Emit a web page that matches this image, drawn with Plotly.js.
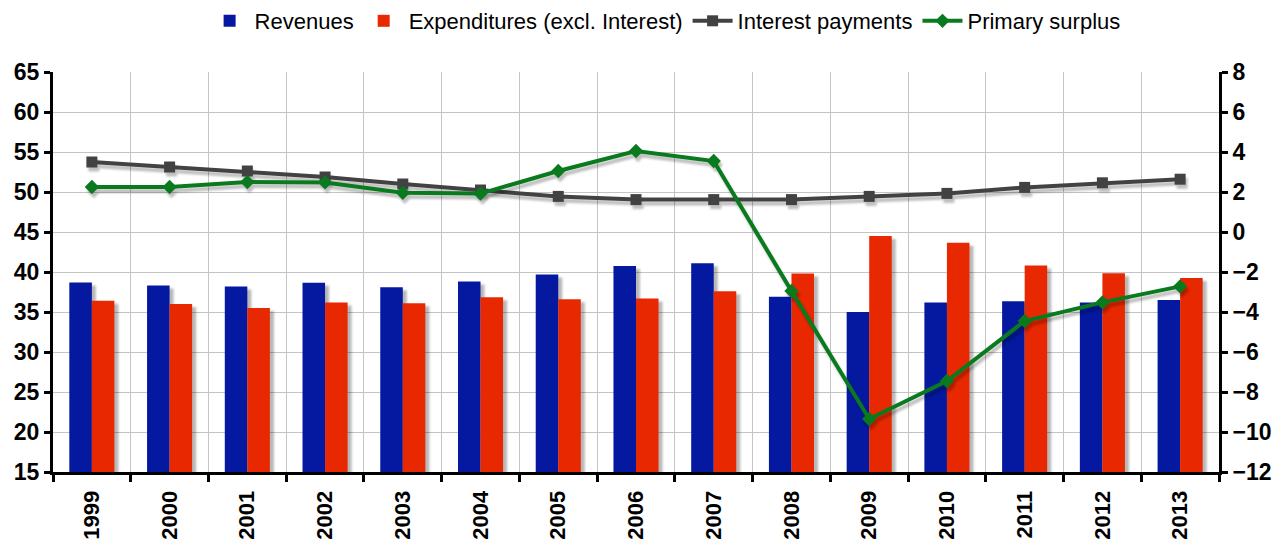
<!DOCTYPE html>
<html>
<head>
<meta charset="utf-8">
<script src="https://cdn.plot.ly/plotly-3.0.1.min.js"></script>
<style>
  html, body { margin: 0; padding: 0; background: #fff; }
  #chart { width: 1284px; height: 550px; }
  .barlayer .trace { filter: drop-shadow(4px 3px 1px rgba(0,0,0,0.28)); }
  .scatterlayer .trace { filter: drop-shadow(2px 4px 1px rgba(0,0,0,0.25)); }
</style>
</head>
<body>
<div id="chart"></div>
<script>
const years = ["1999","2000","2001","2002","2003","2004","2005","2006","2007","2008","2009","2010","2011","2012","2013"];
const revenues = [38.7, 38.3, 38.2, 38.65, 38.1, 38.8, 39.7, 40.75, 41.1, 36.9, 35.0, 36.2, 36.35, 36.2, 36.5];
const expenditures = [36.4, 36.0, 35.5, 36.2, 36.1, 36.85, 36.6, 36.7, 37.6, 39.8, 44.5, 43.65, 40.8, 39.85, 39.25];
const interestPayments = [3.5, 3.25, 3.05, 2.75, 2.4, 2.1, 1.78, 1.62, 1.62, 1.62, 1.78, 1.93, 2.23, 2.46, 2.64];
const primarySurplus = [2.25, 2.25, 2.5, 2.48, 1.96, 1.92, 3.05, 4.05, 3.55, -2.95, -9.35, -7.45, -4.45, -3.52, -2.72];

const font = "Liberation Sans, Arial, sans-serif";

const traces = [
  { type: "bar", name: "Revenues", x: years, y: revenues, marker: { color: "#0418A0" }, yaxis: "y" },
  { type: "bar", name: "Expenditures (excl. Interest)", x: years, y: expenditures, marker: { color: "#E82800" }, yaxis: "y" },
  { type: "scatter", mode: "lines+markers", name: "Interest payments", x: years, y: interestPayments, yaxis: "y2",
    line: { color: "#424242", width: 4 }, marker: { symbol: "square", size: 11, color: "#424242" } },
  { type: "scatter", mode: "lines+markers", name: "Primary surplus", x: years, y: primarySurplus, yaxis: "y2",
    line: { color: "#0A7A1E", width: 4 }, marker: { symbol: "diamond", size: 11, color: "#0A7A1E" } }
];

const layout = {
  width: 1284, height: 550,
  margin: { l: 53, r: 65, t: 72, b: 78, pad: 0 },
  paper_bgcolor: "#ffffff", plot_bgcolor: "#ffffff",
  font: { family: font, color: "#000" },
  barmode: "group", bargap: 0.42, bargroupgap: 0,
  showlegend: true,
  legend: { orientation: "h", x: 0.518, xanchor: "center", xref: "container", y: 1, yref: "container", yanchor: "top",
    font: { size: 22, family: font }, traceorder: "normal", itemwidth: 40 },
  xaxis: {
    type: "category", range: [-0.5, 14.5], tickson: "boundaries", showgrid: true, gridcolor: "#c4c4c4", gridwidth: 1,
    showline: true, linecolor: "#000", linewidth: 3, automargin: false,
    ticks: "outside", ticklen: 7, tickwidth: 3, tickcolor: "#000", ticklabelstandoff: 7,
    tickangle: -90, tickfont: { size: 22, family: font, weight: "bold" }
  },
  yaxis: {
    range: [15, 65], dtick: 5, tick0: 15, showgrid: true, gridcolor: "#c4c4c4", gridwidth: 1,
    showline: true, linecolor: "#000", linewidth: 3, zeroline: false, automargin: false,
    ticks: "outside", ticklen: 6, tickwidth: 3, tickcolor: "#000",
    tickfont: { size: 23, family: font, weight: "bold" }
  },
  yaxis2: {
    overlaying: "y", side: "right", range: [-12, 8], dtick: 2, tick0: -12, showgrid: false, zeroline: false,
    showline: true, linecolor: "#000", linewidth: 3, automargin: false,
    ticks: "outside", ticklen: 6, tickwidth: 3, tickcolor: "#000",
    tickfont: { size: 23, family: font, weight: "bold" }
  }
};

Plotly.newPlot("chart", traces, layout, { staticPlot: true, displayModeBar: false });
</script>
</body>
</html>
